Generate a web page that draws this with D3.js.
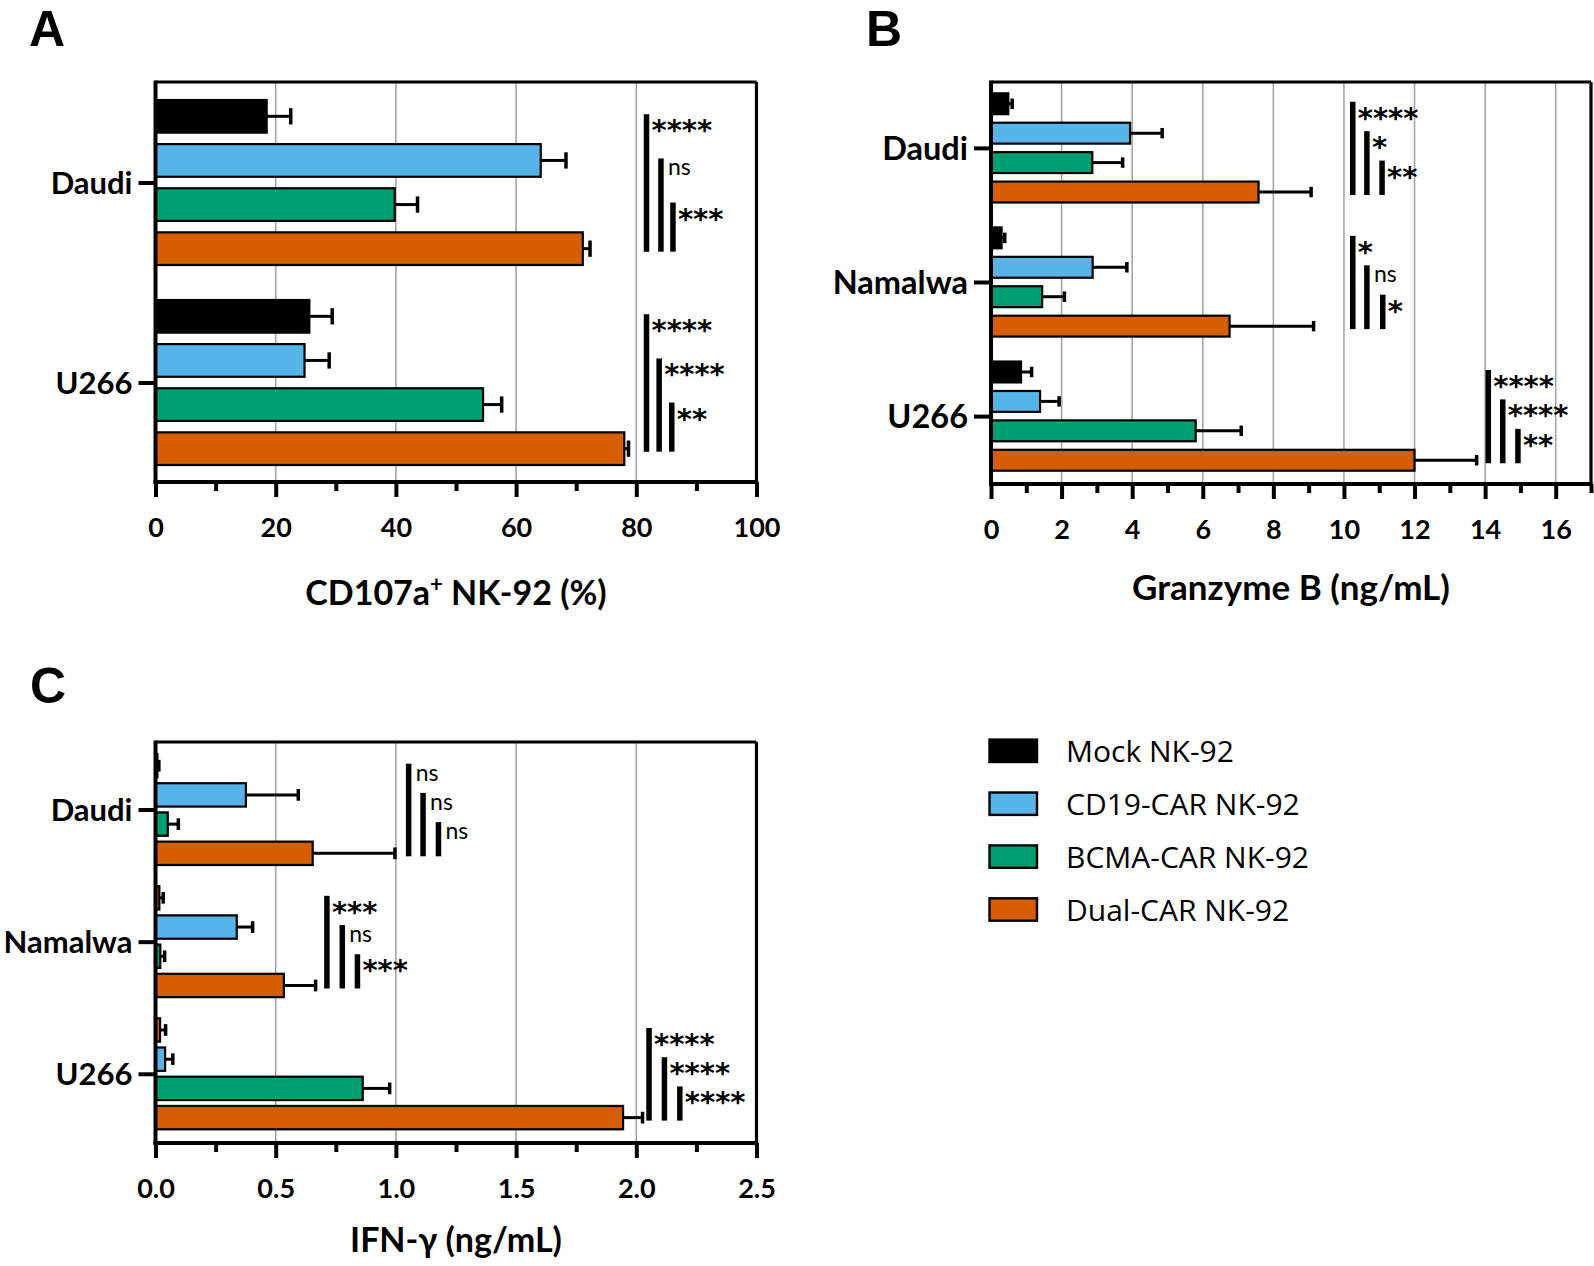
<!DOCTYPE html>
<html><head><meta charset="utf-8">
<script src="https://cdn.jsdelivr.net/npm/d3@7"></script>
<style>body{margin:0;background:#fff} svg{display:block}</style>
</head><body>
<svg id="chart" width="1594" height="1266"></svg>
<script>
// ---------- DATA ----------
const seriesNames = ["Mock NK-92", "CD19-CAR NK-92", "BCMA-CAR NK-92", "Dual-CAR NK-92"];
const seriesColors = ["#000000", "#56B4E9", "#009E73", "#D55E00"];

// Panel A: CD107a+ NK-92 (%)
const catsA = ["Daudi", "U266"];
const meanA = [[18.5, 64.1, 39.8, 71.1], [25.6, 24.8, 54.5, 78.0]];
const sdA   = [[4.0, 4.2, 3.8, 1.2], [3.8, 4.1, 3.1, 0.7]];
const ticksA = [0, 20, 40, 60, 80, 100];
const minorA = [10, 30, 50, 70, 90];
const sigA = [
  [{from: 0, x: 81.7, label: "****"}, {from: 1, x: 84.1, label: "ns"}, {from: 2, x: 86.1, label: "***"}],
  [{from: 0, x: 81.7, label: "****"}, {from: 1, x: 83.8, label: "****"}, {from: 2, x: 85.9, label: "**"}]
];

// Panel B: Granzyme B (ng/mL)
const catsB = ["Daudi", "Namalwa", "U266"];
const meanB = [[0.49, 3.94, 2.87, 7.58], [0.30, 2.88, 1.45, 6.76], [0.85, 1.39, 5.80, 12.0]];
const sdB   = [[0.11, 0.91, 0.86, 1.49], [0.09, 0.97, 0.63, 2.38], [0.30, 0.54, 1.29, 1.76]];
const ticksB = [0, 2, 4, 6, 8, 10, 12, 14, 16];
const minorB = [1, 3, 5, 7, 9, 11, 13, 15, 17];
const sigB = [
  [{from: 0, x: 10.25, label: "****"}, {from: 1, x: 10.65, label: "*"}, {from: 2, x: 11.08, label: "**"}],
  [{from: 0, x: 10.25, label: "*"}, {from: 1, x: 10.65, label: "ns"}, {from: 2, x: 11.1, label: "*"}],
  [{from: 0, x: 14.09, label: "****"}, {from: 1, x: 14.5, label: "****"}, {from: 2, x: 14.93, label: "**"}]
];

// Panel C: IFN-γ (ng/mL)
const catsC = ["Daudi", "Namalwa", "U266"];
const meanC = [[0.008, 0.376, 0.051, 0.654], [0.016, 0.338, 0.020, 0.534], [0.019, 0.040, 0.862, 1.945]];
const sdC   = [[0.006, 0.218, 0.044, 0.342], [0.016, 0.066, 0.018, 0.132], [0.023, 0.032, 0.112, 0.081]];
const ticksC = [0, 0.5, 1.0, 1.5, 2.0, 2.5];
const minorC = [0.25, 0.75, 1.25, 1.75, 2.25];
const sigC = [
  [{from: 0, x: 1.053, label: "ns"}, {from: 1, x: 1.113, label: "ns"}, {from: 2, x: 1.177, label: "ns"}],
  [{from: 0, x: 0.713, label: "***"}, {from: 1, x: 0.777, label: "ns"}, {from: 2, x: 0.84, label: "***"}],
  [{from: 0, x: 2.053, label: "****"}, {from: 1, x: 2.117, label: "****"}, {from: 2, x: 2.181, label: "****"}]
];
// in the original figure the tiny Mock bars of Namalwa / U266 in panel C are drawn orange
const fillOverrideC = {"Namalwa|0": "#D55E00", "U266|0": "#D55E00"};

// ---------- DRAW ----------
const svg = d3.select("#chart");
const FONT = "Lato, 'Open Sans', sans-serif";
const STAR_FONT = "'DejaVu Sans', sans-serif";

function drawPanel(cfg) {
  const g = svg.append("g");
  const x = d3.scaleLinear().domain(cfg.domain).range([cfg.left, cfg.right]);
  const y = d3.scaleBand().domain(cfg.cats).range(cfg.bandRange).paddingInner(cfg.padGroup).paddingOuter(0);
  const ys = d3.scaleBand().domain(d3.range(seriesNames.length)).range([0, y.bandwidth()]).paddingInner(cfg.padBar).paddingOuter(0);
  const bh = ys.bandwidth();

  // gridlines
  g.selectAll(".grid").data(cfg.ticks.filter(t => t > cfg.domain[0] && t < cfg.domain[1]))
    .join("line").attr("x1", d => x(d)).attr("x2", d => x(d))
    .attr("y1", cfg.top).attr("y2", cfg.bottom)
    .attr("stroke", "#a6a6a6").attr("stroke-width", 1.6);

  // bars
  const rows = [];
  cfg.cats.forEach((c, i) => cfg.mean[i].forEach((v, s) => rows.push({c, i, s, v, sd: cfg.sd[i][s]})));
  g.selectAll(".bar").data(rows).join("rect")
    .attr("x", x(0)).attr("y", d => y(d.c) + ys(d.s))
    .attr("width", d => x(d.v) - x(0)).attr("height", bh)
    .attr("fill", d => (cfg.override && cfg.override[d.c + "|" + d.s]) || seriesColors[d.s])
    .attr("stroke", "#000").attr("stroke-width", 2.2);

  // error bars
  g.selectAll(".err").data(rows).join("line")
    .attr("x1", d => x(d.v)).attr("x2", d => x(d.v + d.sd))
    .attr("y1", d => y(d.c) + ys(d.s) + bh / 2).attr("y2", d => y(d.c) + ys(d.s) + bh / 2)
    .attr("stroke", "#000").attr("stroke-width", 3);
  g.selectAll(".cap").data(rows).join("line")
    .attr("x1", d => x(d.v + d.sd)).attr("x2", d => x(d.v + d.sd))
    .attr("y1", d => y(d.c) + ys(d.s) + bh * 0.25).attr("y2", d => y(d.c) + ys(d.s) + bh * 0.75)
    .attr("stroke", "#000").attr("stroke-width", 3.5);

  // frame (top/right)
  g.append("line").attr("x1", cfg.left).attr("x2", cfg.right).attr("y1", cfg.top).attr("y2", cfg.top)
    .attr("stroke", "#000").attr("stroke-width", 3.2);
  g.append("line").attr("x1", cfg.right).attr("x2", cfg.right).attr("y1", cfg.top).attr("y2", cfg.bottom)
    .attr("stroke", "#000").attr("stroke-width", 3.2);

  // x axis
  const xAxis = d3.axisBottom(x).tickValues(cfg.ticks).tickSize(15).tickFormat(cfg.fmt);
  const ax = g.append("g").attr("transform", `translate(0,${cfg.bottom})`).call(xAxis);
  ax.select(".domain").attr("stroke-width", 4).attr("d", `M${cfg.left - 2},0H${cfg.right + 1.6}`);
  ax.selectAll(".tick line").attr("stroke-width", 4);
  ax.selectAll(".tick text").attr("y", 55).attr("dy", 0)
    .attr("font-family", FONT).attr("font-weight", 700).attr("font-size", 27).attr("fill", "#000");
  const minorAxis = d3.axisBottom(x).tickValues(cfg.minor).tickSize(9).tickFormat("");
  const mx = g.append("g").attr("transform", `translate(0,${cfg.bottom})`).call(minorAxis);
  mx.select(".domain").remove();
  mx.selectAll(".tick line").attr("stroke-width", 4);

  // y axis (category ticks at group centres)
  const yCenter = c => y(c) + y.bandwidth() / 2;
  const yAx = g.append("g").attr("transform", `translate(${cfg.left},0)`)
    .call(d3.axisLeft(d3.scaleOrdinal().domain(cfg.cats).range(cfg.cats.map(yCenter))).tickSize(17).tickPadding(6));
  yAx.select(".domain").attr("stroke-width", 4).attr("d", `M0,${cfg.top - 1.6}V${cfg.bottom + 2}`);
  yAx.selectAll(".tick line").attr("stroke-width", 4);
  yAx.selectAll(".tick text").attr("dy", "0.36em")
    .attr("font-family", FONT).attr("font-weight", 700).attr("font-size", cfg.catFont).attr("fill", "#000");

  // significance brackets
  cfg.cats.forEach((c, i) => {
    const dualC = y(c) + ys(3) + bh / 2;
    cfg.sig[i].forEach(b => {
      const topY = y(c) + ys(b.from) + bh / 2 - 2;
      g.append("line").attr("x1", x(b.x)).attr("x2", x(b.x))
        .attr("y1", topY).attr("y2", dualC + 3)
        .attr("stroke", "#000").attr("stroke-width", 5.5);
      const isNs = b.label === "ns";
      g.append("text").attr("x", x(b.x) + (isNs ? 7 : 5))
        .attr("y", topY + (isNs ? 17 : 26))
        .attr("font-family", isNs ? FONT : STAR_FONT).attr("font-weight", isNs ? 400 : 700)
        .attr("font-size", isNs ? 23 : 29).attr("fill", "#000")
        .text(b.label);
    });
  });

  // axis title
  const t = g.append("text").attr("x", (cfg.left + cfg.right) / 2).attr("y", cfg.titleY)
    .attr("text-anchor", "middle").attr("font-family", FONT).attr("font-weight", 700)
    .attr("font-size", cfg.titleFont).attr("fill", "#000");
  cfg.title(t);

  // panel letter
  svg.append("text").attr("x", cfg.letterX).attr("y", cfg.letterY)
    .attr("font-family", "'Liberation Sans', Arial, sans-serif").attr("font-weight", 700)
    .attr("font-size", 50).attr("fill", "#000")
    .text(cfg.letter);
}

drawPanel({
  cats: catsA, mean: meanA, sd: sdA, ticks: ticksA, minor: minorA, sig: sigA,
  domain: [0, 100], left: 155.5, right: 756.5, top: 82, bottom: 482,
  bandRange: [100, 465], padGroup: 0.175, padBar: 0.26, catFont: 31,
  fmt: d3.format("d"), titleY: 605, titleFont: 34,
  title: t => { t.append("tspan").text("CD107a");
                t.append("tspan").attr("font-size", 22).attr("dy", -13).text("+");
                t.append("tspan").attr("dy", 13).text(" NK-92 (%)"); },
  letter: "A", letterX: 29, letterY: 46
});

drawPanel({
  cats: catsB, mean: meanB, sd: sdB, ticks: ticksB, minor: minorB, sig: sigB,
  domain: [0, 17], left: 991, right: 1591, top: 82, bottom: 484,
  bandRange: [93.3, 470.7], padGroup: 0.186, padBar: 0.29, catFont: 32.5,
  fmt: d3.format("d"), titleY: 600, titleFont: 35,
  title: t => t.text("Granzyme B (ng/mL)"),
  letter: "B", letterX: 866, letterY: 46
});

drawPanel({
  cats: catsC, mean: meanC, sd: sdC, ticks: ticksC, minor: minorC, sig: sigC, override: fillOverrideC,
  domain: [0, 2.5], left: 155.5, right: 756.5, top: 742, bottom: 1143,
  bandRange: [754, 1129.3], padGroup: 0.16, padBar: 0.2, catFont: 31,
  fmt: d3.format(".1f"), titleY: 1252, titleFont: 34,
  title: t => t.text("IFN-γ (ng/mL)"),
  letter: "C", letterX: 30, letterY: 703
});

// legend
const leg = svg.append("g");
const legY = d3.scalePoint().domain(seriesNames).range([750.8, 909.5]);
seriesNames.forEach((n, i) => {
  leg.append("rect").attr("x", 989.5).attr("y", legY(n) - 11.2).attr("width", 47.5).attr("height", 22.4)
    .attr("fill", seriesColors[i]).attr("stroke", "#000").attr("stroke-width", 2.4);
  leg.append("text").attr("x", 1066).attr("y", legY(n) + 11.5)
    .attr("font-family", "'Open Sans', sans-serif").attr("font-size", 30).attr("fill", "#000").text(n);
});
</script>
</body></html>
